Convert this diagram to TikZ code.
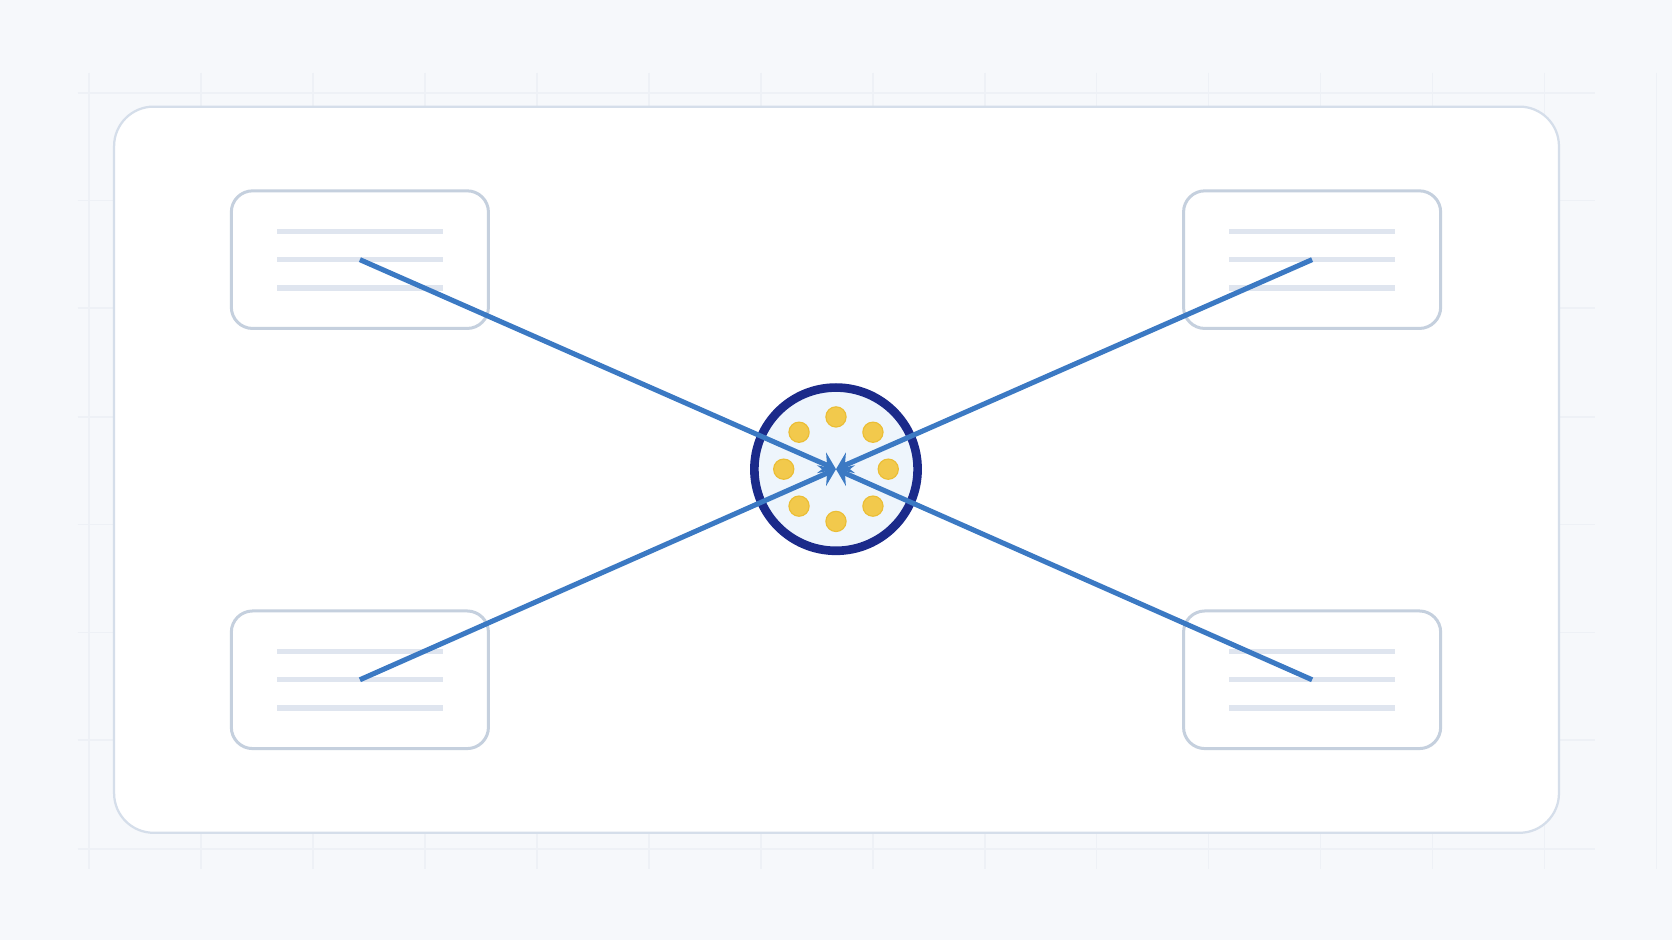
\documentclass[tikz,border=0pt]{standalone}
\usepackage{tikz}
\usetikzlibrary{arrows.meta,calc}
\definecolor{bgcol}{HTML}{F6F8FB}
\definecolor{gridcol}{HTML}{EEF1F6}
\definecolor{framecol}{HTML}{D5DEEA}
\definecolor{cardcol}{HTML}{C5D0DE}
\definecolor{textcol}{HTML}{DFE5EF}
\definecolor{hubcol}{HTML}{1B2A8A}
\definecolor{hubfill}{HTML}{EEF5FC}
\definecolor{dotcol}{HTML}{F2C94C}
\definecolor{dotrim}{HTML}{EBBE35}
\definecolor{linkcol}{HTML}{3B79C3}
\begin{document}
\begin{tikzpicture}[line cap=butt,line join=round,x=0.01cm,y=-0.01cm,
    card/.style={draw=cardcol,fill=white,line width=0.8pt,rounded corners=0.2cm,
        minimum width=2.41cm,minimum height=1.29cm,inner sep=0pt},
    hub/.style={circle,draw=hubcol,fill=hubfill,line width=2.3pt,minimum size=1.53cm,inner sep=0pt},
    textline/.style={textcol,line width=1.4pt},
    dot/.style={fill=dotcol,draw=dotrim,line width=0.3pt},
    link/.style={linkcol,line width=1.35pt,-{Stealth[length=4.2pt,width=6pt,inset=1.6pt]}}]
                % background and grid
                \fill [bgcol] (0,0) rectangle (1568,882);
                \useasboundingbox (0,0) rectangle (1568,882);
                \foreach \x in {0,...,14}
                    \draw [gridcol,line width=0.4pt] (83.5+105*\x,68)-- (83.5+105*\x,815);
                \foreach \y in {87,188,289,391,492,593,694,796}
                    \draw [gridcol,line width=0.4pt] (73,\y)-- (1496,\y);
                % frame
                \draw [framecol,fill=white,line width=0.6pt,rounded corners=0.37cm] (107,100) rectangle (1462,781);
                % cards
                \node [card] (tl) at (337.5,243.5) {};
                \node [card] (tr) at (1230.5,243.5) {};
                \node [card] (bl) at (337.5,637.5) {};
                \node [card] (br) at (1230.5,637.5) {};
                \foreach \c in {tl,tr,bl,br}
                    \foreach \dy in {-26.5,0,26.5}
                        \draw [textline] ($(\c.center)+(-77.5,\dy)$)-- ($(\c.center)+(77.5,\dy)$);
                % hub
                \node [hub] (hub) at (784,440) {};
                \foreach \a in {0,45,...,315}
                    \draw [dot] ($(hub.center)+(\a:49)$) circle (9.5);
                % links
                \draw [link] (tl.center)-- (hub.center);
                \draw [link] (tr.center)-- (hub.center);
                \draw [link] (bl.center)-- (hub.center);
                \draw [link] (br.center)-- (hub.center);
\end{tikzpicture}
\end{document}
